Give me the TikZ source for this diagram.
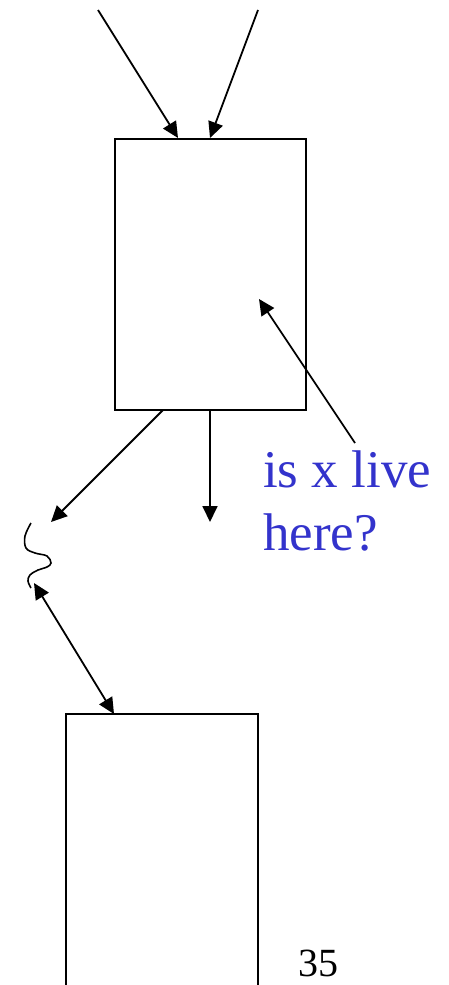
\documentclass[tikz,border=0pt]{standalone}
\usepackage{fontspec}
\setmainfont{Liberation Serif}
\usetikzlibrary{arrows.meta}
\definecolor{qblue}{RGB}{51,51,204}
\tikzset{
  box/.style={draw, line width=1.6pt, rectangle, inner sep=0pt},
  arr/.style={line width=1.8pt, -{Triangle[length=16pt,width=15pt]}},
  darr/.style={line width=1.8pt, {Triangle[length=16pt,width=15pt]}-{Triangle[length=16pt,width=15pt]}},
  squig/.style={line width=1.6pt}
}
\begin{document}
\begin{tikzpicture}[x=1pt,y=-1pt]
\clip (0,0) rectangle (448,985);
\fill[white] (0,0) rectangle (448,985);
% boxes
\node[box, minimum width=191pt, minimum height=271pt] (B1) at (210.5,274.5) {};
\node[box, minimum width=192pt, minimum height=300pt] (B2) at (162,864) {};
% free ends
\coordinate (s1) at (98,10);
\coordinate (s2) at (258,10);
\coordinate (t1) at (178,138);
\coordinate (t2) at (210,138);
\coordinate (b1) at (163,410);
\coordinate (b2) at (210,410);
\coordinate (e1) at (51,522);
\coordinate (e2) at (210,522);
\coordinate (pt) at (259,299);
\coordinate (u1) at (34,583);
\coordinate (u2) at (114,714);
\draw[arr] (s1) -- (t1);
\draw[arr] (s2) -- (t2);
\draw[arr] (b1) -- (e1);
\draw[arr] (b2) -- (e2);
% squiggle
\draw[squig] plot[smooth, tension=0.6] coordinates {(31,523) (25,536) (26,548) (35,553) (47,556) (51,563) (47,567) (38,570) (30,575) (28,581) (31,588)};
\draw[darr] (u1) -- (u2);
% text
\node[anchor=base west, inner sep=0pt, text=qblue, font=\fontsize{53}{63}\selectfont] (q1) at (263,487) {is x live};
\node[anchor=base west, inner sep=0pt, text=qblue, font=\fontsize{53}{63}\selectfont] (q2) at (263,550) {here?};
\coordinate (qs) at (355,443);
\draw[arr] (qs) -- (pt);
\node[anchor=base west, inner sep=0pt, font=\fontsize{40}{48}\selectfont] (num) at (298,976) {35};
\end{tikzpicture}
\end{document}
